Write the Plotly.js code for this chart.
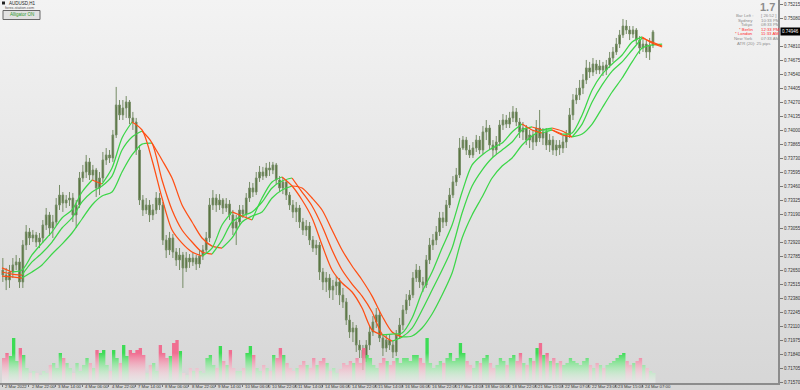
<!DOCTYPE html>
<html>
<head>
<meta charset="utf-8">
<script src="https://cdn.plot.ly/plotly-3.0.1.min.js"></script>
<style>
html,body{margin:0;padding:0;}
#chart{width:800px;height:390px;background:linear-gradient(#f3f3f3,#d6d6d6);}
</style>
</head>
<body>
<div id="chart"></div>
<script>
// ---- H2-aggregated AUDUSD price data ----
const open = [
0.72651,0.72603,0.72555,0.72632,0.72700,0.72729,0.72536,0.72892,0.73018,0.72960,
0.72989,0.72921,0.72960,0.73085,0.73182,0.73056,0.73114,0.73278,0.73374,0.73297,
0.73326,0.73345,0.73182,0.73278,0.73538,0.73596,0.73693,0.73567,0.73615,0.73442,
0.73538,0.73712,0.73760,0.73731,0.73953,0.74242,0.74146,0.74213,0.74271,0.74117,
0.74078,0.73808,0.73326,0.73230,0.73278,0.73182,0.73230,0.73345,0.73278,0.72940,
0.72844,0.72960,0.72825,0.72748,0.72796,0.72671,0.72767,0.72729,0.72767,0.72709,
0.72786,0.72844,0.72960,0.73278,0.73345,0.73278,0.73326,0.73249,0.73287,0.73182,
0.73056,0.73114,0.73230,0.73191,0.73345,0.73442,0.73403,0.73538,0.73596,0.73557,
0.73635,0.73615,0.73664,0.73519,0.73442,0.73500,0.73374,0.73278,0.73211,0.73249,
0.73114,0.73037,0.73075,0.72940,0.72863,0.72892,0.72632,0.72536,0.72574,0.72458,
0.72497,0.72536,0.72410,0.72343,0.72169,0.72054,0.72092,0.71928,0.71880,0.71803,
0.71928,0.72054,0.72150,0.72218,0.71996,0.71899,0.71976,0.71928,0.71861,0.72025,
0.72121,0.72266,0.72362,0.72410,0.72574,0.72651,0.72536,0.72507,0.72748,0.72892,
0.72940,0.73018,0.73153,0.73114,0.73278,0.73374,0.73500,0.73567,0.73827,0.73904,
0.73808,0.73760,0.73827,0.73904,0.73808,0.73982,0.74020,0.73856,0.73808,0.73885,
0.74049,0.74097,0.74058,0.74117,0.74175,0.74078,0.73982,0.74020,0.73904,0.73953,
0.73885,0.74020,0.73924,0.73982,0.73856,0.73904,0.73808,0.73856,0.73827,0.73885,
0.73953,0.74146,0.74290,0.74338,0.74406,0.74483,0.74599,0.74560,0.74637,0.74579,
0.74618,0.74579,0.74628,0.74695,0.74753,0.74829,0.74917,0.75003,0.74965,0.74926,
0.74965,0.74868,0.74791,0.74829,0.74753,0.74820];
const high = [
0.72767,0.72671,0.72700,0.72767,0.72796,0.72767,0.72940,0.73085,0.73056,0.73037,
0.73018,0.73008,0.73133,0.73249,0.73211,0.73182,0.73345,0.73471,0.73403,0.73374,
0.73403,0.73393,0.73326,0.73596,0.73664,0.73760,0.73731,0.73664,0.73635,0.73596,
0.73789,0.73827,0.73808,0.74001,0.74416,0.74290,0.74290,0.74328,0.74290,0.74175,
0.74117,0.73856,0.73374,0.73345,0.73326,0.73287,0.73403,0.73393,0.73307,0.72989,
0.73018,0.72998,0.72863,0.72863,0.72825,0.72825,0.72805,0.72815,0.72796,0.72844,
0.72892,0.73018,0.73345,0.73422,0.73383,0.73383,0.73345,0.73345,0.73326,0.73230,
0.73182,0.73278,0.73278,0.73393,0.73500,0.73490,0.73596,0.73654,0.73645,0.73683,
0.73693,0.73693,0.73683,0.73557,0.73538,0.73519,0.73403,0.73326,0.73307,0.73278,
0.73153,0.73133,0.73114,0.72979,0.72940,0.72921,0.72671,0.72632,0.72612,0.72555,
0.72593,0.72574,0.72478,0.72381,0.72218,0.72150,0.72121,0.71976,0.71928,0.71976,
0.72111,0.72208,0.72285,0.72247,0.72034,0.72025,0.72034,0.71976,0.72073,0.72189,
0.72314,0.72419,0.72458,0.72632,0.72709,0.72690,0.72584,0.72796,0.72960,0.72998,
0.73075,0.73211,0.73211,0.73326,0.73442,0.73557,0.73635,0.73924,0.73943,0.73934,
0.73856,0.73885,0.73953,0.73943,0.74039,0.74097,0.74049,0.73904,0.73943,0.74097,
0.74155,0.74146,0.74175,0.74232,0.74213,0.74117,0.74078,0.74049,0.74001,0.74001,
0.74097,0.74194,0.74020,0.74020,0.73962,0.73943,0.73904,0.73904,0.73943,0.74001,
0.74213,0.74347,0.74406,0.74483,0.74540,0.74676,0.74657,0.74695,0.74676,0.74676,
0.74657,0.74676,0.74753,0.74801,0.74888,0.74965,0.75071,0.75061,0.75003,0.75003,
0.74984,0.74907,0.74888,0.74868,0.74888,0.74965];
const low = [
0.72536,0.72458,0.72478,0.72574,0.72651,0.72478,0.72478,0.72844,0.72892,0.72921,
0.72873,0.72863,0.72911,0.73037,0.72979,0.72960,0.73075,0.73230,0.73211,0.73249,
0.73268,0.73114,0.73056,0.73249,0.73500,0.73538,0.73519,0.73519,0.73355,0.73374,
0.73500,0.73664,0.73683,0.73693,0.73924,0.74097,0.74097,0.74117,0.74058,0.74001,
0.73760,0.73278,0.73172,0.73191,0.73114,0.73133,0.73191,0.73230,0.72892,0.72767,
0.72796,0.72767,0.72690,0.72651,0.72478,0.72632,0.72671,0.72690,0.72651,0.72671,
0.72748,0.72805,0.72921,0.73230,0.73211,0.73230,0.73191,0.73211,0.73133,0.72989,
0.72892,0.73075,0.73153,0.73153,0.73307,0.73355,0.73374,0.73500,0.73519,0.73538,
0.73557,0.73576,0.73480,0.73403,0.73383,0.73326,0.73230,0.73153,0.73114,0.73056,
0.72989,0.72979,0.72892,0.72825,0.72796,0.72555,0.72458,0.72439,0.72381,0.72362,
0.72410,0.72314,0.72285,0.72121,0.71996,0.71957,0.71861,0.71803,0.71687,0.71765,
0.71880,0.72015,0.72092,0.71957,0.71822,0.71861,0.71880,0.71803,0.71822,0.71996,
0.72073,0.72227,0.72304,0.72381,0.72536,0.72478,0.72439,0.72478,0.72709,0.72844,
0.72892,0.72979,0.73056,0.73075,0.73249,0.73345,0.73461,0.73538,0.73808,0.73760,
0.73731,0.73731,0.73789,0.73769,0.73769,0.73904,0.73808,0.73741,0.73760,0.73846,
0.74001,0.74020,0.74020,0.74078,0.74039,0.73924,0.73904,0.73856,0.73827,0.73808,
0.73846,0.73885,0.73856,0.73808,0.73789,0.73760,0.73750,0.73760,0.73779,0.73827,
0.73924,0.74097,0.74251,0.74290,0.74347,0.74444,0.74502,0.74521,0.74540,0.74540,
0.74521,0.74531,0.74599,0.74657,0.74724,0.74791,0.74888,0.74926,0.74868,0.74888,
0.74829,0.74733,0.74753,0.74695,0.74676,0.74791];
const close = [
0.72603,0.72555,0.72632,0.72700,0.72729,0.72536,0.72892,0.73018,0.72960,0.72989,
0.72921,0.72960,0.73085,0.73182,0.73056,0.73114,0.73278,0.73374,0.73297,0.73326,
0.73345,0.73182,0.73278,0.73538,0.73596,0.73693,0.73567,0.73615,0.73442,0.73538,
0.73712,0.73760,0.73731,0.73953,0.74242,0.74146,0.74213,0.74271,0.74117,0.74078,
0.73808,0.73326,0.73230,0.73278,0.73182,0.73230,0.73345,0.73278,0.72940,0.72844,
0.72960,0.72825,0.72748,0.72796,0.72671,0.72767,0.72729,0.72767,0.72709,0.72786,
0.72844,0.72960,0.73278,0.73345,0.73278,0.73326,0.73249,0.73287,0.73182,0.73056,
0.73114,0.73230,0.73191,0.73345,0.73442,0.73403,0.73538,0.73596,0.73557,0.73635,
0.73615,0.73664,0.73519,0.73442,0.73500,0.73374,0.73278,0.73211,0.73249,0.73114,
0.73037,0.73075,0.72940,0.72863,0.72892,0.72632,0.72536,0.72574,0.72458,0.72497,
0.72536,0.72410,0.72343,0.72169,0.72054,0.72092,0.71928,0.71880,0.71803,0.71928,
0.72054,0.72150,0.72218,0.71996,0.71899,0.71976,0.71928,0.71861,0.72025,0.72121,
0.72266,0.72362,0.72410,0.72574,0.72651,0.72536,0.72507,0.72748,0.72892,0.72940,
0.73018,0.73153,0.73114,0.73278,0.73374,0.73500,0.73567,0.73827,0.73904,0.73808,
0.73760,0.73827,0.73904,0.73808,0.73982,0.74020,0.73856,0.73808,0.73885,0.74049,
0.74097,0.74058,0.74117,0.74175,0.74078,0.73982,0.74020,0.73904,0.73953,0.73885,
0.74020,0.73924,0.73982,0.73856,0.73904,0.73808,0.73856,0.73827,0.73885,0.73953,
0.74146,0.74290,0.74338,0.74406,0.74483,0.74599,0.74560,0.74637,0.74579,0.74618,
0.74579,0.74628,0.74695,0.74753,0.74829,0.74917,0.75003,0.74965,0.74926,0.74965,
0.74868,0.74791,0.74829,0.74753,0.74820,0.74946];
// tick volume per bar
const volume = [
2500,3000,2700,4500,2200,3500,2800,1500,1000,1200,
1000,800,1200,1000,1800,2000,1500,3000,2500,2000,
1500,1000,2000,1200,1800,2500,2000,1500,3300,3000,
3300,1800,1200,3300,2500,2000,3800,2700,3300,3000,
3300,3500,2800,1000,1800,2000,1200,3800,3000,2500,
2700,4000,4300,3200,1000,800,1500,1200,1500,1200,
1000,2500,2800,1800,1500,3700,2200,1800,3300,1500,
1200,1200,1500,3000,3700,2800,1500,1200,1800,1500,
1200,2800,2500,3500,2800,2000,1500,1200,1500,1800,
2200,1800,1500,2500,1800,2200,2500,2000,1200,1500,
1000,1400,2000,1800,2200,2000,2500,2000,3500,2800,
2500,1800,1500,2000,2500,2200,1800,2200,2500,2000,
2500,2500,2200,2800,2800,2500,2000,4500,2000,1500,
1800,2200,2000,2500,3000,2200,2500,4000,3000,2200,
1800,1500,2200,2000,2500,2800,2000,1500,1800,2500,
2200,1800,2500,2800,2200,3000,2000,1800,2500,2200,
3500,4000,2800,3000,2200,2500,2000,2200,1800,2000,
2500,2200,2000,1800,2200,2500,1800,1500,2000,1800,
1500,1800,2000,2200,2500,2800,3000,2200,1800,2000,
2200,2500,1800,1500,1200,1000];

const lineHours = [0,6,12,18,24,30,36,42,48,54,60,66,72,78,84,90,96,102,108,114,120,126,132,138,144,150,156,162,168,174,180,186,192,198,204,210,216,222,228,234,240,246,252,258,264,270,276,282,288,294,300,306,312,318,324,330,336,342,348,354,360,366,372,378,384,390,396];
const lips = [
0.72671,0.72632,0.72651,0.72796,0.72911,0.73018,0.73153,0.73230,0.73403,0.73519,
0.73480,0.73635,0.73924,0.74078,0.74001,0.73712,0.73345,0.73037,0.72911,0.72825,
0.72786,0.72863,0.73085,0.73211,0.73172,0.73133,0.73345,0.73500,0.73548,0.73461,
0.73326,0.73153,0.72892,0.72651,0.72526,0.72439,0.72285,0.72073,0.72025,0.72034,
0.72044,0.72189,0.72439,0.72632,0.72863,0.73085,0.73403,0.73664,0.73760,0.73827,
0.73875,0.73982,0.74058,0.74001,0.73972,0.74001,0.73962,0.73972,0.74146,0.74386,
0.74540,0.74637,0.74724,0.74849,0.74898,0.74839,0.74801];
const teeth = [
0.72632,0.72612,0.72603,0.72729,0.72815,0.72921,0.73056,0.73153,0.73307,0.73403,
0.73461,0.73557,0.73808,0.73934,0.73991,0.73875,0.73519,0.73230,0.73037,0.72921,
0.72825,0.72805,0.72940,0.73114,0.73172,0.73211,0.73307,0.73442,0.73509,0.73538,
0.73403,0.73268,0.73075,0.72844,0.72651,0.72516,0.72400,0.72247,0.72034,0.71966,
0.72006,0.72092,0.72266,0.72458,0.72651,0.72863,0.73201,0.73461,0.73615,0.73731,
0.73808,0.73885,0.74001,0.74030,0.74001,0.74001,0.73953,0.73934,0.74058,0.74271,
0.74435,0.74569,0.74657,0.74772,0.74888,0.74849,0.74810];
const jaw = [
0.72593,0.72584,0.72574,0.72632,0.72700,0.72805,0.72901,0.73008,0.73143,0.73278,
0.73364,0.73403,0.73596,0.73760,0.73865,0.73875,0.73712,0.73538,0.73278,0.73114,
0.72960,0.72882,0.72863,0.72960,0.73114,0.73172,0.73211,0.73345,0.73422,0.73461,
0.73442,0.73345,0.73230,0.73037,0.72844,0.72690,0.72555,0.72400,0.72208,0.72054,
0.72006,0.72015,0.72092,0.72227,0.72410,0.72622,0.72960,0.73182,0.73355,0.73538,
0.73654,0.73731,0.73856,0.73943,0.74001,0.74020,0.73991,0.73934,0.73962,0.74058,
0.74213,0.74367,0.74502,0.74657,0.74791,0.74820,0.74829];

// axis ticks
const xTickHours = [0,16,32,48,64,80,96,112,128,144,160,176,192,208,224,240,256,272,288,304,320,336,352,368,384];
const xTickText = ["2 Mar 2022","2 Mar 22:00","3 Mar 14:00","4 Mar 06:00","4 Mar 22:00","7 Mar 14:00","8 Mar 06:00","8 Mar 22:00","9 Mar 14:00","10 Mar 06:00","10 Mar 22:00","11 Mar 14:00","14 Mar 06:00","14 Mar 22:00","15 Mar 14:00","16 Mar 06:00","16 Mar 22:00","17 Mar 14:00","18 Mar 06:00","18 Mar 22:00","21 Mar 15:00","22 Mar 07:00","22 Mar 23:00","23 Mar 15:00","24 Mar 07:00"];
// price scale labels (0.74945 is hidden behind the current-price box in the reference)
const yTicks = [0.71570,0.71705,0.71840,0.71975,0.72110,0.72245,0.72380,0.72515,0.72650,0.72785,0.72920,0.73055,0.73190,0.73325,0.73460,0.73595,0.73730,0.73865,0.74000,0.74135,0.74270,0.74405,0.74540,0.74675,0.74810,0.75080,0.75215];

const infoNames = ["Bar Left :","Sydney","Tokyo","* Berlin","* London","New York"];
const infoValues = ["[ 26:52 ]","10:33 PM","08:33 PM","12:33 PM","11:33 AM","07:33 AM"];
const infoRed = [false,false,false,true,true,false];

// ---- build traces ----
const barHours = open.map((_, i) => 2 * i + 0.5);
const GREEN = '#3cd648', ORANGE = '#ff4f14';
const traces = [];

// volume (two gradient-filled step areas)
const volX = open.map((_, i) => 2 * i).concat([2 * open.length]);
const upVol = volume.map((v, i) => close[i] >= open[i] ? v : 0);
const dnVol = volume.map((v, i) => close[i] < open[i] ? v : 0);
upVol.push(upVol[upVol.length - 1]); dnVol.push(dnVol[dnVol.length - 1]);
function volTrace(y, col) {
  return {type: 'scatter', mode: 'lines', x: volX, y: y, yaxis: 'y2', line: {shape: 'hv', width: 0},
    fill: 'tozeroy', fillgradient: {type: 'vertical', start: 0, stop: 3000,
    colorscale: [[0, 'rgba(255,255,255,0.35)'], [1, col]]}, hoverinfo: 'skip', showlegend: false};
}
traces.push(volTrace(upVol, 'rgb(60,220,85)'));
traces.push(volTrace(dnVol, 'rgb(240,110,145)'));

// candles
traces.push({type: 'candlestick', x: barHours, open: open, high: high, low: low, close: close,
  increasing: {line: {color: '#768c66', width: 1}, fillcolor: '#4d6b31'},
  decreasing: {line: {color: '#768c66', width: 1}, fillcolor: '#4d6b31'},
  whiskerwidth: 0, hoverinfo: 'skip', showlegend: false});

// alligator lines: green on rising runs, orange on falling runs
function addLine(vals) {
  let k = 1;
  while (k < vals.length) {
    const down = vals[k] < vals[k - 1];
    const s = k - 1;
    while (k < vals.length && (vals[k] < vals[k - 1]) === down) k++;
    traces.push({type: 'scatter', mode: 'lines', x: lineHours.slice(s, k), y: vals.slice(s, k),
      line: {color: down ? ORANGE : GREEN, width: 1.25, shape: 'spline', smoothing: 0.8},
      hoverinfo: 'skip', showlegend: false});
  }
}
addLine(jaw); addLine(teeth); addLine(lips);

// ---- layout ----
const PW = 778, PH = 383;
const px = v => v / PW, py = v => 1 - v / PH;
const F = 'Liberation Sans, Arial, sans-serif';
const ann = [];
ann.push({xref: 'paper', yref: 'paper', x: px(7), y: py(3), xanchor: 'left', yanchor: 'middle', text: 'AUDUSD,H1', showarrow: false, font: {family: F, size: 4.5, color: '#222'}});
ann.push({xref: 'paper', yref: 'paper', x: px(3), y: py(7.8), xanchor: 'left', yanchor: 'middle', text: 'forex-station.com', showarrow: false, font: {family: F, size: 3.8, color: '#555'}});
ann.push({xref: 'paper', yref: 'paper', x: px(21.5), y: py(15), xanchor: 'center', yanchor: 'middle', text: 'Alligator ON', showarrow: false, font: {family: F, size: 4.5, color: '#2a9a2a'}});
ann.push({xref: 'paper', yref: 'paper', x: px(777), y: py(7), xanchor: 'right', yanchor: 'middle', text: '<b>1.7</b>', showarrow: false, font: {family: F, size: 11, color: '#8c8c8c'}});
infoNames.forEach((n, i) => {
  const col = infoRed[i] ? '#ff2a2a' : '#8c8c8c';
  ann.push({xref: 'paper', yref: 'paper', x: px(755), y: py(15.5 + 4.6 * i), xanchor: 'right', yanchor: 'middle', text: n, showarrow: false, font: {family: F, size: 4.3, color: col}});
  ann.push({xref: 'paper', yref: 'paper', x: px(759), y: py(15.5 + 4.6 * i), xanchor: 'left', yanchor: 'middle', text: infoValues[i], showarrow: false, font: {family: F, size: 4.3, color: col}});
});
ann.push({xref: 'paper', yref: 'paper', x: px(772), y: py(43.5), xanchor: 'right', yanchor: 'middle', text: 'ATR (20): 25 pips', showarrow: false, font: {family: F, size: 4.3, color: '#8c8c8c'}});
ann.push({xref: 'paper', yref: 'y', x: px(780), y: close[close.length - 1], xanchor: 'left', yanchor: 'middle', text: close[close.length - 1].toFixed(5), showarrow: false, bgcolor: '#000', borderpad: 1, font: {family: F, size: 4.5, color: '#fff'}});
// time scale labels, drawn to the right of each tick as on the terminal
xTickHours.forEach((h, i) => {
  ann.push({xref: 'x', yref: 'paper', x: h, y: py(386.3), xanchor: 'left', yanchor: 'middle', xshift: 1, text: xTickText[i], showarrow: false, font: {family: F, size: 4.3, color: '#333'}});
});

const shapes = [
  {type: 'rect', xref: 'paper', yref: 'paper', x0: px(2), x1: px(5), y0: py(4.5), y1: py(1.5), fillcolor: '#222', line: {width: 0}},
  {type: 'rect', xref: 'paper', yref: 'paper', x0: px(3), x1: px(40), y0: py(19.5), y1: py(10.5), fillcolor: '#e2e2e2', line: {color: '#666', width: 1}}
];

const layout = {
  width: 800, height: 390, margin: {l: 0, r: 22, t: 0, b: 7},
  paper_bgcolor: 'rgba(0,0,0,0)', plot_bgcolor: 'rgba(0,0,0,0)',
  showlegend: false, hovermode: false, dragmode: false,
  font: {family: F, size: 5, color: '#333'},
  xaxis: {range: [-1.2, 465.5], tickmode: 'array', tickvals: xTickHours, showticklabels: false,
    ticks: 'outside', ticklen: 2, tickcolor: '#777',
    showline: true, linecolor: '#8c8c8c', linewidth: 1.5,
    showgrid: false, zeroline: false, rangeslider: {visible: false}, fixedrange: true},
  yaxis: {side: 'right', range: [0.71562, 0.75254], tickmode: 'array', tickvals: yTicks,
    ticktext: yTicks.map(v => v.toFixed(5)), ticks: 'outside', ticklen: 3, tickcolor: '#777',
    tickfont: {family: F, size: 4.5, color: '#333'}, showline: true, linecolor: '#8c8c8c', linewidth: 2,
    showgrid: false, zeroline: false, fixedrange: true},
  yaxis2: {overlaying: 'y', range: [0, 38300], visible: false, fixedrange: true},
  annotations: ann, shapes: shapes
};

Plotly.newPlot('chart', traces, layout, {staticPlot: true, displayModeBar: false});
</script>
</body>
</html>
